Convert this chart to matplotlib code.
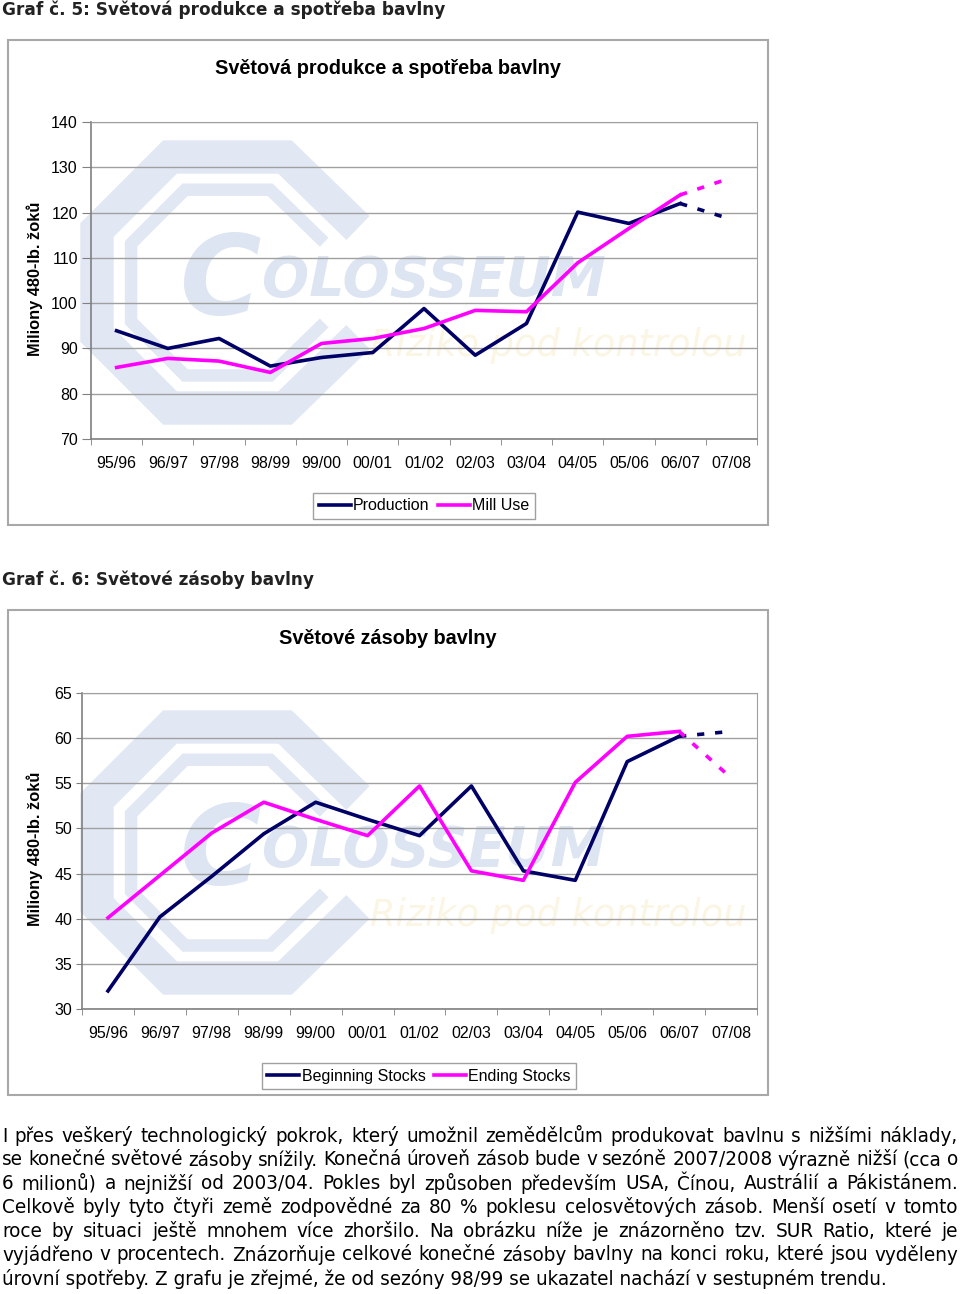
import numpy as np
import matplotlib
matplotlib.use("Agg")
import matplotlib.pyplot as plt
from matplotlib import font_manager
from matplotlib.font_manager import FontProperties
from matplotlib.patches import Rectangle
from matplotlib.lines import Line2D

# ---- data (million 480-lb. bales); last season is a projection ----
seasons = ["95/96", "96/97", "97/98", "98/99", "99/00", "00/01", "01/02",
           "02/03", "03/04", "04/05", "05/06", "06/07", "07/08"]
production = [93.9, 90.0, 92.2, 86.1, 88.0, 89.1, 98.8, 88.5, 95.5, 120.1, 117.6, 122.0, 118.5]
mill_use = [85.8, 87.8, 87.2, 84.7, 91.1, 92.2, 94.4, 98.4, 98.1, 108.9, 116.5, 123.9, 127.7]
beginning_stocks = [32.0, 40.2, 44.7, 49.4, 52.9, 51.0, 49.2, 54.7, 45.3, 44.25, 57.4, 60.2, 60.75]
ending_stocks = [40.1, 44.8, 49.5, 52.9, 51.0, 49.2, 54.7, 45.3, 44.25, 55.1, 60.2, 60.75, 55.6]

prod_ticks = [70, 80, 90, 100, 110, 120, 130, 140]
stock_ticks = [30, 35, 40, 45, 50, 55, 60, 65]

body_lines = [
    "I přes veškerý technologický pokrok, který umožnil zemědělcům produkovat bavlnu s nižšími náklady,",
    "se konečné světové zásoby snížily. Konečná úroveň zásob bude v sezóně 2007/2008 výrazně nižší (cca o",
    "6 milionů) a nejnižší od 2003/04. Pokles byl způsoben především USA, Čínou, Austrálií a Pákistánem.",
    "Celkově byly tyto čtyři země zodpovědné za 80 % poklesu celosvětových zásob. Menší osetí v tomto",
    "roce by situaci ještě mnohem více zhoršilo. Na obrázku níže je znázorněno tzv. SUR Ratio, které je",
    "vyjádřeno v procentech. Znázorňuje celkové konečné zásoby bavlny na konci roku, které jsou vyděleny",
    "úrovní spotřeby. Z grafu je zřejmé, že od sezóny 98/99 se ukazatel nachází v sestupném trendu.",
]

W, H = 960, 1294
NAVY = "#000066"
MAGENTA = "#ff00ff"
GRID = "#a0a0a0"
FRAME = "#a8a8a8"
INK = "#000000"

available = {f.name for f in font_manager.fontManager.ttflist}
CHART_FONT = "Liberation Sans" if "Liberation Sans" in available else "DejaVu Sans"
HEAD_FONT = "DejaVu Sans"
plt.rcParams["font.family"] = CHART_FONT

# body text in the original is a narrow humanist face; use a condensed file if one exists
body_file = None
for f in font_manager.fontManager.ttflist:
    fn = f.fname.lower()
    if f.style == "normal" and f.weight in (400, "normal", "regular") and \
            ("narrow" in fn or "condensed" in fn) and "bold" not in fn and "light" not in fn:
        body_file = f.fname
        if "dejavu" in fn or "liberation" in fn:
            break
BODY_FP = FontProperties(fname=body_file) if body_file else FontProperties(family="DejaVu Sans")

fig = plt.figure(figsize=(W / 100, H / 100), dpi=100)
bg = fig.add_axes([0, 0, 1, 1], zorder=0)
bg.set_xlim(0, W)
bg.set_ylim(H, 0)
bg.axis("off")


def watermark(dy):
    # faint "Colosseum" logo behind each chart
    outer = [(358, 228), (285, 157), (170, 157), (97, 230), (97, 335), (170, 408), (285, 408), (358, 337)]
    cx, cy = 228, 283
    inner = [(cx + (x - cx) * 0.74, cy + (y - cy) * 0.74) for x, y in outer]
    for pts, lw in ((outer, 24), (inner, 9)):
        xs, ys = zip(*pts)
        bg.plot(xs, [y + dy for y in ys], color="#e1e8f4", lw=lw, solid_joinstyle="miter",
                solid_capstyle="butt", zorder=0)
    bg.text(180, 283 + dy, "C", fontsize=80, fontweight="bold", style="italic",
            color="#dde5f2", va="center", ha="left", family="DejaVu Sans", zorder=0)
    bg.text(262, 281 + dy, "OLOSSEUM", fontsize=40, fontweight="bold", style="italic",
            color="#dde5f2", va="center", ha="left", family="DejaVu Sans", zorder=0)
    bg.text(370, 346 + dy, "Riziko pod kontrolou", fontsize=26.5, style="italic",
            color="#fbf5e4", va="center", ha="left", family="DejaVu Sans", zorder=0)


def draw_chart(box, plot_rect, a, b, ticks, tick_len, title, labels, legend_xy):
    fl, ft, fr, fb = box
    bg.add_patch(Rectangle((fl, ft), fr - fl, fb - ft, fill=False, edgecolor=FRAME, lw=1.5, zorder=1))
    l, t, r, btm = plot_rect
    ax = fig.add_axes([l / W, 1 - btm / H, (r - l) / W, (btm - t) / H], zorder=2)
    ax.set_facecolor("none")
    x = np.arange(len(seasons))
    ax.plot(x[:-1], a[:-1], color=NAVY, lw=2.6, zorder=3)
    ax.plot(x[:-1], b[:-1], color=MAGENTA, lw=2.6, zorder=4)
    ax.plot(x[-2:], a[-2:], color=NAVY, lw=2.6, ls=(0, (2, 3)), zorder=3)
    ax.plot(x[-2:], b[-2:], color=MAGENTA, lw=2.6, ls=(0, (2, 3)), zorder=4)
    ax.set_xlim(-0.5, len(seasons) - 0.5)
    ax.set_ylim(ticks[0], ticks[-1])
    ax.set_yticks(ticks)
    ax.set_xticks(x)
    ax.set_xticklabels(seasons)
    ax.set_xticks(np.arange(-0.5, len(seasons)), minor=True)
    ax.tick_params(axis="x", which="major", length=0, pad=12, labelsize=11.5)
    ax.tick_params(axis="x", which="minor", length=4.5, color="#808080")
    ax.tick_params(axis="y", length=tick_len, pad=3, labelsize=11.5, color="#808080")
    ax.yaxis.grid(True, color=GRID, lw=1)
    for s in ("top", "right"):
        ax.spines[s].set_color(GRID)
    for s in ("left", "bottom"):
        ax.spines[s].set_color("#808080")
        ax.spines[s].set_linewidth(1.2)
    ax.set_axisbelow(True)

    bg.text((fl + fr) / 2, ft + 28, title, fontsize=14.3, fontweight="bold",
            ha="center", va="center", color=INK)
    bg.text(35, (t + btm) / 2 - 2, "Miliony 480-lb. žoků", fontsize=11.8, fontweight="bold",
            rotation=90, ha="center", va="center", color=INK)
    handles = [Line2D([], [], color=NAVY, lw=2.6), Line2D([], [], color=MAGENTA, lw=2.6)]
    leg = fig.legend(handles, labels, loc="center",
                     bbox_to_anchor=(legend_xy[0] / W, 1 - legend_xy[1] / H),
                     ncol=2, fancybox=False, edgecolor="#a0a0a0", framealpha=1,
                     handlelength=2.0, handletextpad=0.15, columnspacing=0.5,
                     borderpad=0.35, fontsize=11.5)
    leg.get_frame().set_linewidth(1.0)
    return ax


watermark(0)
watermark(570)

bg.text(2, 10, "Graf č. 5: Světová produkce a spotřeba bavlny", fontsize=12.2, fontweight="bold",
        family=HEAD_FONT, color="#222222", va="center", ha="left")
draw_chart((8, 40, 768, 525), (91, 122, 757, 439), production, mill_use, prod_ticks, 6.5,
           "Světová produkce a spotřeba bavlny", ["Production", "Mill Use"], (424, 506))

bg.text(2, 580, "Graf č. 6: Světové zásoby bavlny", fontsize=12.2, fontweight="bold",
        family=HEAD_FONT, color="#222222", va="center", ha="left")
draw_chart((8, 610, 768, 1095), (82, 693, 757, 1009), beginning_stocks, ending_stocks, stock_ticks, 4,
           "Světové zásoby bavlny", ["Beginning Stocks", "Ending Stocks"], (419, 1076))

# ---- justified body text ----
renderer = fig.canvas.get_renderer()


def text_width(s, fs):
    fp = BODY_FP.copy()
    fp.set_size(fs)
    t = bg.text(0, 0, s, fontproperties=fp)
    w = t.get_window_extent(renderer).width
    t.remove()
    return w


body_fs = 12 * 886 / text_width(body_lines[-1], 12)
body_fp = BODY_FP.copy()
body_fp.set_size(body_fs)
y0, dy = 1136, 23.8
for i, line in enumerate(body_lines):
    y = y0 + i * dy
    if i == len(body_lines) - 1:
        bg.text(2, y, line, fontproperties=body_fp, va="center", ha="left", color=INK)
        continue
    words = line.split(" ")
    widths = [text_width(w, body_fs) for w in words]
    gap = (956 - sum(widths)) / (len(words) - 1)
    xpos = 2
    for w, wd in zip(words, widths):
        bg.text(xpos, y, w, fontproperties=body_fp, va="center", ha="left", color=INK)
        xpos += wd + gap

fig.savefig("out.png", dpi=100)
